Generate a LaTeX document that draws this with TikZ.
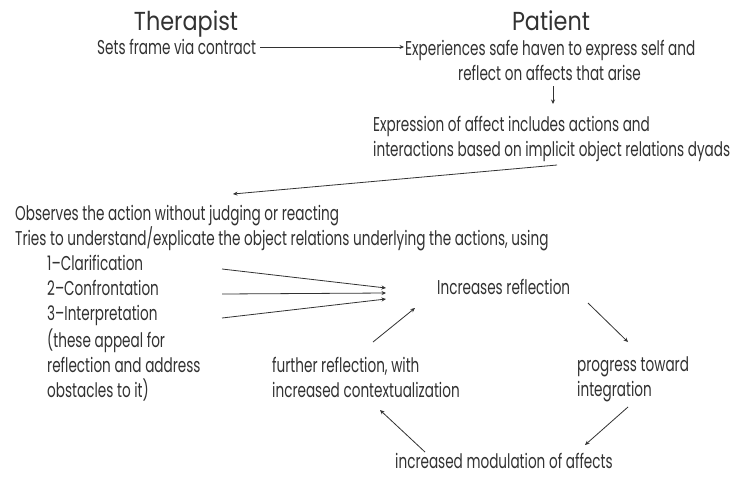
\documentclass[tikz,border=0pt]{standalone}
\usepackage{fontspec}
\setmainfont[FakeStretch=0.68]{Poppins}
\newfontfamily\headfont[FakeStretch=0.86]{Poppins}
\usetikzlibrary{arrows.meta}
\definecolor{ink}{RGB}{50,50,50}
\tikzset{
  txt/.style={anchor=base west, inner sep=0pt, text=ink, font=\fontsize{20}{25}\selectfont, align=left},
  head/.style={anchor=base, inner sep=0pt, text=ink, font=\headfont\fontsize{26}{30}\selectfont},
  conn/.style={draw=ink, line width=0.8pt, -{Stealth[length=4.5pt,width=4pt]}},
}
\begin{document}
\begin{tikzpicture}[x=1pt,y=-1pt]
\useasboundingbox[fill=white] (0,0) rectangle (736,480);
% column headings
\node[head] (ther) at (186,30) {Therapist};
\node[head] (pat) at (551,30) {Patient};
% top row (multi-line nodes are placed by the baseline of their last line)
\node[txt] (frame) at (97,54) {Sets frame via contract};
\node[txt] (haven) at (405,55) {Experiences safe haven to express self and};
\node[txt] (haven2) at (458,80) {reflect on affects that arise};
\node[txt] (expr) at (373,156) {Expression of affect includes actions and\\interactions based on implicit object relations dyads};
% therapist interventions
\node[txt] (obs) at (15,245) {Observes the action without judging or reacting\\Tries to understand/explicate the object relations underlying the actions, using};
\node[txt] (t1) at (47,270) {1--Clarification};
\node[txt] (t2) at (47,295) {2--Confrontation};
\node[txt] (t3) at (47,320) {3--Interpretation};
\node[txt] (note) at (47,397) {(these appeal for\\reflection and address\\obstacles to it)};
% reflection cycle
\node[txt] (refl) at (437,294) {Increases reflection};
\node[txt] (prog) at (577,396) {progress toward\\integration};
\node[txt] (mod) at (395,468) {increased modulation of affects};
\node[txt] (further) at (272,397) {further reflection, with\\increased contextualization};
% connector end points
\coordinate (c1a) at (222,269);
\coordinate (c2a) at (222,294);
\coordinate (c3a) at (222,318);
\coordinate (h1) at (386,288);
\coordinate (h2) at (386,293);
\coordinate (h3) at (386,299);
\coordinate (exA) at (557,165);
\coordinate (exB) at (233,194);
\coordinate (dnA) at (553,86);
\coordinate (dnB) at (553,104);
\coordinate (rA) at (588,303);
\coordinate (rB) at (628,342);
\coordinate (pA) at (628,407);
\coordinate (pB) at (585,445);
\coordinate (mA) at (425,452);
\coordinate (mB) at (380,410);
\coordinate (fA) at (373,342);
\coordinate (fB) at (415,308);
% connectors
\draw[conn, shorten <=4pt, shorten >=1pt] (frame.east |- 0,47) -- (haven.west |- 0,47);
\draw[conn] (dnA) -- (dnB);
\draw[conn] (exA) -- (exB);
\draw[conn] (c1a) -- (h1);
\draw[conn] (c2a) -- (h2);
\draw[conn] (c3a) -- (h3);
\draw[conn] (rA) -- (rB);
\draw[conn] (pA) -- (pB);
\draw[conn] (mA) -- (mB);
\draw[conn] (fA) -- (fB);
\end{tikzpicture}
\end{document}
